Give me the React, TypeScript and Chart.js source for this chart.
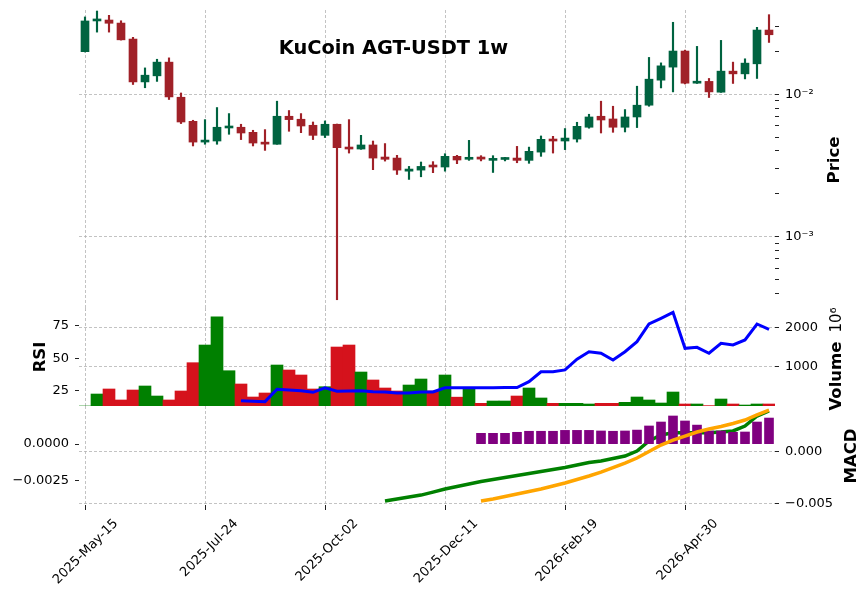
import React, { useEffect, useRef } from 'react';
import { Chart, registerables } from 'chart.js';

Chart.register(...registerables);
Chart.defaults.font.family = "'DejaVu Sans'";

// ---------------- data ----------------
const X_TICK_POS = [0, 10, 20, 30, 40, 50];
const X_TICK_LABELS = ['2025-May-15', '2025-Jul-24', '2025-Oct-02', '2025-Dec-11', '2026-Feb-19', '2026-Apr-30'];

const OPEN = [0.0199, 0.0327, 0.0332, 0.0316, 0.0244, 0.0122, 0.01346, 0.0168, 0.00952, 0.00645,
  0.00461, 0.00469, 0.00579, 0.00586, 0.0054, 0.00452, 0.00445, 0.0070, 0.00667, 0.00605,
  0.00514, 0.00615, 0.00425, 0.00412, 0.0044, 0.00362, 0.00356, 0.00288, 0.00293, 0.00318,
  0.00308, 0.00366, 0.00349, 0.00362, 0.00343, 0.00348, 0.00356, 0.00343, 0.00392, 0.00482,
  0.00469, 0.00484, 0.00586, 0.0070, 0.0067, 0.00586, 0.00692, 0.00837, 0.01255, 0.0155,
  0.0201, 0.01195, 0.0123, 0.01033, 0.01452, 0.0139, 0.01635, 0.02823];
const HIGH = [0.0349, 0.0384, 0.0358, 0.0328, 0.0251, 0.0153, 0.0176, 0.0180, 0.0102, 0.00656,
  0.00663, 0.00806, 0.00731, 0.00615, 0.00558, 0.00564, 0.00893, 0.00768, 0.00731, 0.00638,
  0.00649, 0.00617, 0.00663, 0.00514, 0.00469, 0.0045, 0.00372, 0.00311, 0.00334, 0.00336,
  0.00382, 0.00372, 0.00474, 0.0037, 0.0037, 0.0036, 0.0043, 0.00425, 0.00509, 0.00506,
  0.00574, 0.00635, 0.00723, 0.00893, 0.00823, 0.0078, 0.01138, 0.01813, 0.0166, 0.032,
  0.0204, 0.02167, 0.0129, 0.02388, 0.0168, 0.01773, 0.0295, 0.0362];
const LOW = [0.0198, 0.0273, 0.0273, 0.0240, 0.0117, 0.0111, 0.0123, 0.00918, 0.00622, 0.00433,
  0.00445, 0.00445, 0.00523, 0.0048, 0.00433, 0.00403, 0.00445, 0.00549, 0.00537, 0.0048,
  0.00496, 0.00036, 0.00386, 0.0041, 0.00295, 0.00339, 0.00273, 0.00252, 0.00263, 0.00281,
  0.00288, 0.00325, 0.00343, 0.0034, 0.00282, 0.0034, 0.0033, 0.00327, 0.00366, 0.00386,
  0.00408, 0.00461, 0.00577, 0.00534, 0.0054, 0.00543, 0.00583, 0.00823, 0.01107, 0.01038,
  0.0118, 0.0119, 0.00948, 0.0103, 0.0119, 0.01281, 0.0129, 0.0231];
const CLOSE = [0.0327, 0.0330, 0.0315, 0.0241, 0.0122, 0.0136, 0.0168, 0.00957, 0.00638, 0.00461,
  0.00472, 0.00586, 0.00595, 0.00534, 0.00454, 0.00446, 0.0070, 0.00663, 0.00598, 0.00514,
  0.00615, 0.00421, 0.00412, 0.0044, 0.00356, 0.00349, 0.00293, 0.00298, 0.00311, 0.00308,
  0.00366, 0.00345, 0.00352, 0.0035, 0.0035, 0.00356, 0.00343, 0.00397, 0.00482, 0.00469,
  0.00492, 0.00595, 0.00692, 0.00659, 0.00586, 0.00692, 0.00837, 0.01275, 0.01582, 0.0201,
  0.01195, 0.0123, 0.01038, 0.01452, 0.0139, 0.01653, 0.02823, 0.02616];

// volume in units of 10^6
const VOLUME = [0, 305, 433, 153, 407, 509, 254, 153, 382, 1102,
  1552, 2272, 898, 560, 229, 331, 1043, 916, 789, 433,
  491, 1501, 1552, 865, 662, 458, 382, 534, 687, 382,
  789, 225, 425, 68, 127, 127, 254, 458, 204, 68,
  68, 68, 51, 68, 68, 93, 229, 153, 76, 356,
  51, 51, 10, 178, 51, 25, 51, 51];

const N13 = [null, null, null, null, null, null, null, null, null, null, null, null, null];
const RSI = [...N13,
  17.5, 17.1, 16.8, 26.3, 25.8, 25.2, 24.0, 27.5, 24.8, 25.0, 25.2, 24.5, 24.2, 23.5, 23.5, 24.2, 24.2,
  27.5, 27.5, 27.5, 27.5, 27.5, 27.6, 27.6, 32.2, 39.8, 39.8, 41.2, 49.4, 55.2, 54.0, 48.8, 55.2,
  62.9, 76.5, 80.9, 85.5, 57.8, 58.6, 54.0, 61.7, 60.4, 64.2, 76.5, 72.4];

const N25 = [...N13, null, null, null, null, null, null, null, null, null, null, null, null];
const MACD = [...N25,
  -0.00478, -0.00458, -0.00439, -0.00420, -0.00391, -0.00361, -0.00337, -0.00313, -0.00289,
  -0.00269, -0.00250, -0.00231, -0.00211, -0.00192, -0.00172, -0.00153, -0.00129, -0.00105,
  -0.00090, -0.00066, -0.00042, 0.00007, 0.00104, 0.00162, 0.00184, 0.00184, 0.00184, 0.00184,
  0.00191, 0.00201, 0.00249, 0.00346, 0.00395];

const N33 = [...N25, null, null, null, null, null, null, null, null];
const SIGNAL = [...N33,
  -0.00478, -0.00458, -0.00434, -0.00410, -0.00386, -0.00361, -0.00332, -0.00303, -0.00269,
  -0.00235, -0.00197, -0.00153, -0.00110, -0.00061, 0.00002, 0.00065, 0.00113, 0.00152,
  0.00191, 0.00220, 0.00244, 0.00273, 0.00307, 0.00356, 0.00404];
const HIST = [...N33,
  0.00073, 0.00073, 0.00073, 0.00080, 0.00087, 0.00087, 0.00087, 0.00093, 0.00093, 0.00093,
  0.00089, 0.00087, 0.00089, 0.00095, 0.00123, 0.00150, 0.00191, 0.00157, 0.00129, 0.00089,
  0.00089, 0.00080, 0.00082, 0.00150, 0.00177];

const PRICE_TICKS = [0.0004, 0.0005, 0.0006, 0.0007, 0.0008, 0.0009,
  0.001, 0.002, 0.003, 0.004, 0.005, 0.006, 0.007, 0.008, 0.009,
  0.01, 0.02, 0.03];
const PRICE_MAJOR = [0.001, 0.01];
const PRICE_MAJOR_LABELS = ['10\u207B\u00B3', '10\u207B\u00B2'];
const VOL_TICKS = [1000, 2000];
const VOL_TICK_LABELS = ['1000', '2000'];
const RSI_TICKS = [25, 50, 75];
const RSI_TICK_LABELS = ['25', '50', '75'];
const HIST_TICKS = [-0.0025, 0];
const HIST_TICK_LABELS = ['\u22120.0025', '0.0000'];
const MACD_TICKS = [-0.005, 0];
const MACD_TICK_LABELS = ['\u22120.005', '0.000'];

// ---------------- style / layout ----------------
const W = 868;
const H = 600;
const LEFT_W = 79;
const RIGHT_W = 93;
const UP = '#006340';
const DOWN = '#a02128';
const VUP = '#008000';
const VDOWN = '#d5121c';
const GRID = '#b4b4b4';
const TICK = '#222222';
const TICK_FONT = { family: "'DejaVu Sans'", size: 13 };
const LABEL_FONT = 'bold 16.5px "DejaVu Sans"';

const candleColors = OPEN.map((o, i) => (CLOSE[i] >= o ? UP : DOWN));
const volColors = OPEN.map((o, i) => (CLOSE[i] >= o ? VUP : VDOWN));

const zeroPad = (s: any) => {
  s.paddingTop = 0;
  s.paddingBottom = 0;
  s.paddingLeft = 0;
  s.paddingRight = 0;
};

const xScale = (showLabels: boolean) => ({
  type: 'linear',
  min: -0.5,
  max: 57.5,
  offset: false,
  afterBuildTicks: (s: any) => {
    s.ticks = X_TICK_POS.map((v) => ({ value: v }));
  },
  afterFit: (s: any) => {
    s.height = showLabels ? 95 : 0;
    zeroPad(s);
  },
  border: { display: false, dash: [3, 2] },
  grid: {
    offset: false,
    color: GRID,
    lineWidth: 0.8,
    drawTicks: showLabels,
    tickLength: 5,
    tickColor: TICK,
    tickWidth: 1,
    tickBorderDash: [],
  },
  ticks: showLabels
    ? {
        display: true,
        autoSkip: false,
        minRotation: 45,
        maxRotation: 45,
        labelOffset: 31,
        padding: 6,
        font: TICK_FONT,
        color: '#000',
        callback: (v: number) => {
          const i = X_TICK_POS.indexOf(v);
          return i >= 0 ? X_TICK_LABELS[i] : '';
        },
      }
    : { display: false },
});

const yScale = (opts: {
  type?: string;
  position: string;
  min: number;
  max: number;
  ticks: number[];
  labels: string[];
  width: number;
  gridOn: boolean;
  major?: number[];
}) => ({
  type: opts.type || 'linear',
  position: opts.position,
  min: opts.min,
  max: opts.max,
  afterBuildTicks: (s: any) => {
    s.ticks = opts.ticks.map((v) => ({ value: v }));
  },
  afterFit: (s: any) => {
    s.width = opts.width;
    zeroPad(s);
  },
  border: { display: false, dash: [3, 2] },
  grid: {
    drawOnChartArea: opts.gridOn,
    color: (c: any) => {
      if (!opts.major) return GRID;
      const v = c.tick ? c.tick.value : null;
      return opts.major.indexOf(v) >= 0 ? GRID : 'rgba(0,0,0,0)';
    },
    lineWidth: 0.8,
    drawTicks: true,
    tickLength: 4,
    tickColor: TICK,
    tickWidth: 1,
    tickBorderDash: [],
  },
  ticks: {
    autoSkip: false,
    padding: 6,
    font: TICK_FONT,
    color: '#000',
    callback: (v: number) => {
      if (opts.major) {
        const j = opts.major.indexOf(v);
        return j >= 0 ? opts.labels[j] : '';
      }
      const i = opts.ticks.indexOf(v);
      return i >= 0 ? opts.labels[i] : '';
    },
  },
});

const rotText = (ctx: CanvasRenderingContext2D, text: string, x: number, y: number, font: string) => {
  ctx.save();
  ctx.translate(x, y);
  ctx.rotate(-Math.PI / 2);
  ctx.font = font;
  ctx.fillStyle = '#000';
  ctx.textAlign = 'center';
  ctx.textBaseline = 'alphabetic';
  ctx.fillText(text, 0, 0);
  ctx.restore();
};

const baseOptions = (padding: any, scales: any) => ({
  responsive: false,
  animation: false,
  devicePixelRatio: 1,
  events: [],
  layout: { padding },
  plugins: { legend: { display: false }, tooltip: { enabled: false }, title: { display: false } },
  scales,
});

const textPlugin = (id: string, draw: (ctx: CanvasRenderingContext2D) => void) => ({
  id,
  afterDraw(chart: any) {
    const ctx = chart.ctx as CanvasRenderingContext2D;
    ctx.save();
    draw(ctx);
    ctx.restore();
  },
});

function priceConfig(): any {
  const draw = (ctx: CanvasRenderingContext2D) => {
    ctx.font = 'bold 19.4px "DejaVu Sans"';
    ctx.fillStyle = '#000';
    ctx.textAlign = 'center';
    ctx.textBaseline = 'alphabetic';
    ctx.fillText('KuCoin AGT-USDT 1w', 393.5, 53.5);
    rotText(ctx, 'Price', 839, 160, LABEL_FONT);
  };
  return {
    type: 'bar',
    data: {
      datasets: [
        {
          type: 'bar',
          label: 'body',
          data: OPEN.map((o, i) => ({ x: i, y: [o, CLOSE[i]] })),
          backgroundColor: candleColors,
          borderWidth: 0,
          barThickness: 8,
          minBarLength: 2,
          grouped: false,
          order: 1,
          xAxisID: 'x',
          yAxisID: 'y',
        },
        {
          type: 'bar',
          label: 'wick',
          data: OPEN.map((o, i) => ({ x: i, y: [LOW[i], HIGH[i]] })),
          backgroundColor: candleColors,
          borderWidth: 0,
          barThickness: 1.5,
          grouped: false,
          order: 2,
          xAxisID: 'x',
          yAxisID: 'y',
        },
      ],
    },
    options: baseOptions({ top: 10, bottom: 289, left: LEFT_W, right: 0 }, {
      x: xScale(false),
      y: yScale({
        type: 'logarithmic', position: 'right', min: 0.000343, max: 0.03904,
        ticks: PRICE_TICKS, labels: PRICE_MAJOR_LABELS, width: RIGHT_W, gridOn: true, major: PRICE_MAJOR,
      }),
    }),
    plugins: [textPlugin('txtA', draw)],
  };
}

function volumeConfig(): any {
  const draw = (ctx: CanvasRenderingContext2D) => {
    rotText(ctx, 'RSI', 45, 357, LABEL_FONT);
    ctx.save();
    ctx.translate(841, 357);
    ctx.rotate(-Math.PI / 2);
    ctx.fillStyle = '#000';
    ctx.textBaseline = 'alphabetic';
    ctx.textAlign = 'left';
    ctx.font = LABEL_FONT;
    const w1 = ctx.measureText('Volume').width;
    ctx.font = '15px "DejaVu Sans"';
    const w2 = ctx.measureText('10\u2076').width;
    const gap = 9;
    const start = -(w1 + gap + w2) / 2 - 2;
    ctx.font = LABEL_FONT;
    ctx.fillText('Volume', start, 0);
    ctx.font = '15px "DejaVu Sans"';
    ctx.fillText('10\u2076', start + w1 + gap, 0);
    ctx.restore();
  };
  return {
    type: 'bar',
    data: {
      datasets: [
        {
          type: 'line',
          label: 'RSI',
          data: RSI.map((v, i) => ({ x: i, y: v })),
          borderColor: '#0000ff',
          borderWidth: 3,
          pointRadius: 0,
          tension: 0,
          order: 1,
          xAxisID: 'x',
          yAxisID: 'yRsi',
        },
        {
          type: 'bar',
          label: 'Volume',
          data: VOLUME.map((v, i) => ({ x: i, y: v })),
          backgroundColor: volColors,
          borderWidth: 0,
          barThickness: 12,
          order: 2,
          xAxisID: 'x',
          yAxisID: 'yVol',
        },
      ],
    },
    options: baseOptions({ top: 308, bottom: 194, left: 0, right: 0 }, {
      x: xScale(false),
      yVol: yScale({ position: 'right', min: 0, max: 2494, ticks: VOL_TICKS, labels: VOL_TICK_LABELS, width: RIGHT_W, gridOn: true }),
      yRsi: yScale({ position: 'left', min: 13.46, max: 88.8, ticks: RSI_TICKS, labels: RSI_TICK_LABELS, width: LEFT_W, gridOn: false }),
    }),
    plugins: [textPlugin('txtB', draw)],
  };
}

function macdConfig(): any {
  const draw = (ctx: CanvasRenderingContext2D) => {
    rotText(ctx, 'MACD', 856, 456, LABEL_FONT);
  };
  return {
    type: 'bar',
    data: {
      datasets: [
        {
          type: 'line',
          label: 'MACD',
          data: MACD.map((v, i) => ({ x: i, y: v })),
          borderColor: '#008000',
          borderWidth: 3.5,
          pointRadius: 0,
          tension: 0,
          order: 3,
          xAxisID: 'x',
          yAxisID: 'yMacd',
        },
        {
          type: 'bar',
          label: 'Histogram',
          data: HIST.map((v, i) => ({ x: i, y: v })),
          backgroundColor: '#800080',
          borderWidth: 0,
          barThickness: 9,
          order: 2,
          xAxisID: 'x',
          yAxisID: 'yHist',
        },
        {
          type: 'line',
          label: 'Signal',
          data: SIGNAL.map((v, i) => ({ x: i, y: v })),
          borderColor: '#ffa500',
          borderWidth: 3.5,
          pointRadius: 0,
          tension: 0,
          order: 1,
          xAxisID: 'x',
          yAxisID: 'yMacd',
        },
      ],
    },
    options: baseOptions({ top: 406, bottom: 0, left: 0, right: 0 }, {
      x: xScale(true),
      yMacd: yScale({ position: 'right', min: -0.00516, max: 0.00443, ticks: MACD_TICKS, labels: MACD_TICK_LABELS, width: RIGHT_W, gridOn: true }),
      yHist: yScale({ position: 'left', min: -0.00415, max: 0.00259, ticks: HIST_TICKS, labels: HIST_TICK_LABELS, width: LEFT_W, gridOn: false }),
    }),
    plugins: [textPlugin('txtC', draw)],
  };
}

export default function App() {
  const refA = useRef<HTMLCanvasElement>(null);
  const refB = useRef<HTMLCanvasElement>(null);
  const refC = useRef<HTMLCanvasElement>(null);

  useEffect(() => {
    const charts = [
      new Chart(refA.current as HTMLCanvasElement, priceConfig()),
      new Chart(refB.current as HTMLCanvasElement, volumeConfig()),
      new Chart(refC.current as HTMLCanvasElement, macdConfig()),
    ];
    return () => charts.forEach((c) => c.destroy());
  }, []);

  const cs: React.CSSProperties = { position: 'absolute', left: 0, top: 0 };
  return (
    <div style={{ position: 'absolute', left: 0, top: 0, width: W, height: H, background: '#fff' }}>
      <canvas ref={refA} width={W} height={H} style={cs} />
      <canvas ref={refB} width={W} height={H} style={cs} />
      <canvas ref={refC} width={W} height={H} style={cs} />
    </div>
  );
}
